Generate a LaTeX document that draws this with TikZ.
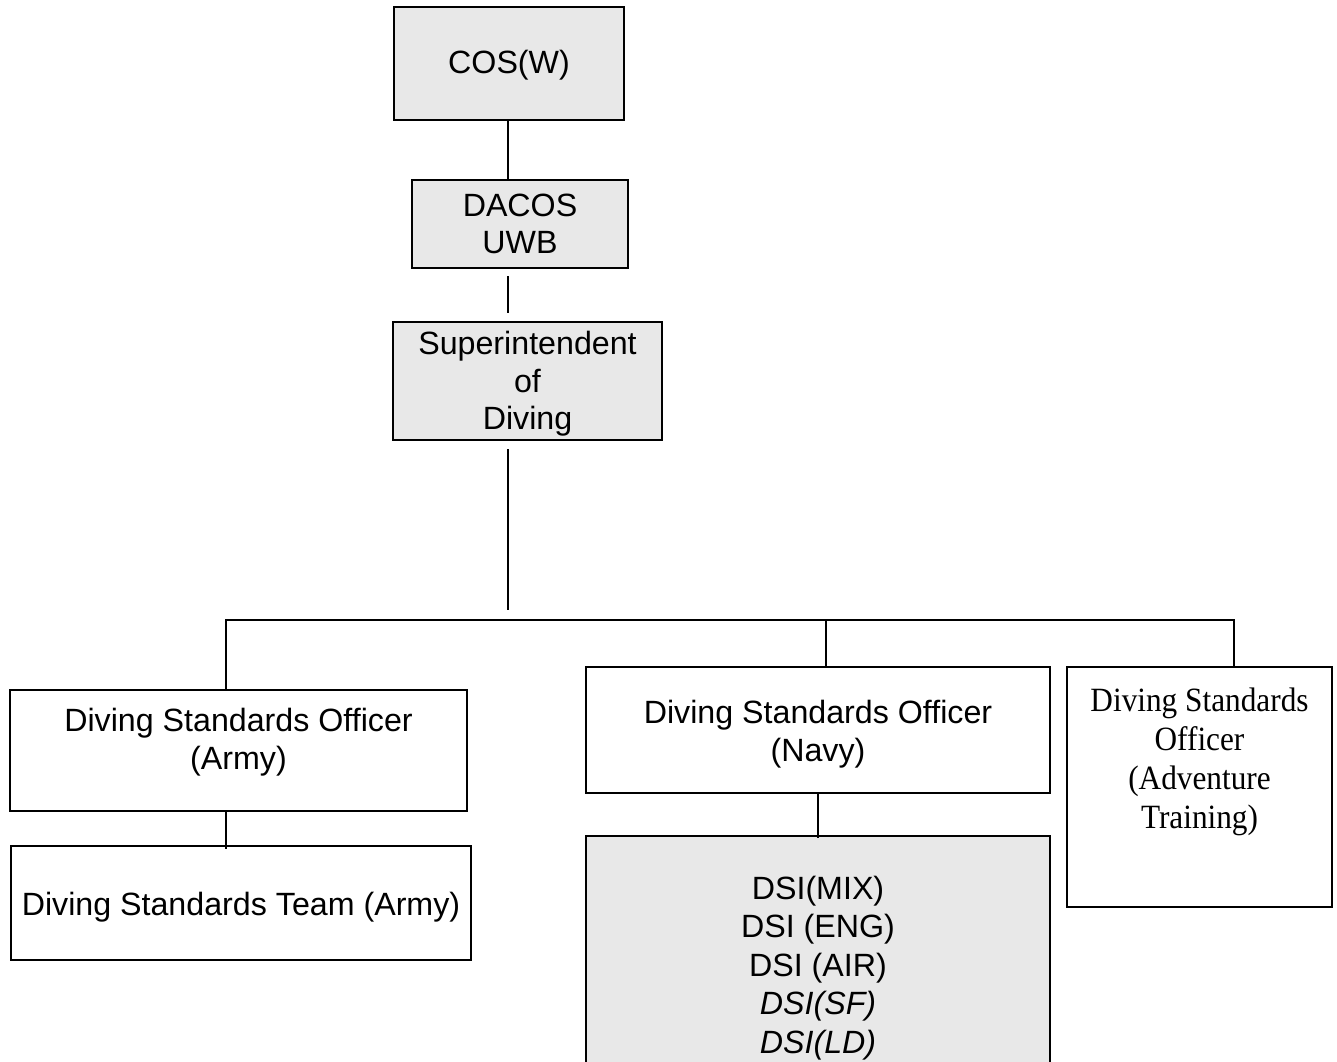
\documentclass[tikz,border=0pt]{standalone}
\usepackage{fontspec}
\setmainfont{Liberation Sans}
\newfontfamily\serifpart[FakeStretch=0.92]{Liberation Serif}
\usetikzlibrary{positioning}
\definecolor{boxgray}{RGB}{232,232,232}

\tikzset{
  chart/.style={draw, line width=2pt, inner sep=0pt, align=center,
    font=\fontsize{32.2}{37.5}\selectfont},
  shaded/.style={chart, fill=boxgray},
  plain/.style={chart, fill=white},
  boxtext/.style={align=center, inner sep=0pt, font=\fontsize{32.2}{37.5}\selectfont},
  link/.style={line width=1.3pt},
}

\begin{document}
\begin{tikzpicture}[line cap=butt,line join=miter,x=1pt,y=-1pt]
\useasboundingbox (0,0) rectangle (1337,1061);
\clip (0,0) rectangle (1337,1061);
% top of the chart
\node[shaded, minimum width=230, minimum height=113] (cos) at (509,63.5) {};
\node[boxtext] (costext) at (509,65) {COS(W)};
\node[shaded, minimum width=216, minimum height=88] (dacos) at (520,224) {DACOS\\UWB};
\node[shaded, minimum width=269, minimum height=118] (super) at (527.5,381) {};
\node[boxtext] (supertext) at (527.5,384) {Superintendent\\of\\Diving};
% second row
\node[plain, minimum width=457, minimum height=121] (army) at (238.5,750.5) {};
\node[boxtext] (armytext) at (238.5,742) {Diving Standards Officer\\(Army)};
\node[plain, minimum width=464, minimum height=126] (navy) at (818,730) {};
\node[boxtext] (navytext) at (818,734) {Diving Standards Officer\\(Navy)};
\node[plain, minimum width=265, minimum height=240] (adv) at (1199.5,787) {};
\node[boxtext, font=\serifpart\fontsize{34}{39}\selectfont] (advtext) at (1199.5,762) {Diving Standards\\Officer\\(Adventure\\Training)};
% third row
\node[plain, minimum width=460, minimum height=114] (team) at (241,903) {};
\node[boxtext] (teamtext) at (241,907) {Diving Standards Team (Army)};
\node[shaded, minimum width=464, minimum height=264] (dsi) at (818,968) {};
\node[boxtext, font=\fontsize{32.2}{38.5}\selectfont] (dsitext) at (818,968) {DSI(MIX)\\DSI (ENG)\\DSI (AIR)\\\textit{DSI(SF)}\\\textit{DSI(LD)}};
% connectors
\coordinate (trunk) at (508,0);
\coordinate (drop) at (508,610);
\coordinate (busL) at (226,620);
\coordinate (busN) at (826,620);
\coordinate (busR) at (1234,620);
\draw[link] (cos.south -| trunk) -- (dacos.north -| trunk);
\draw[link] ([yshift=-7pt]dacos.south -| trunk) -- ([yshift=8pt]super.north -| trunk);
\draw[link] ([yshift=-8pt]super.south -| trunk) -- (drop);
\draw[link] (army.north -| busL) -- (busL) -- (busR) -- (adv.north -| busR);
\draw[link] (busN) -- (navy.north -| busN);
\draw[link] (army.south -| busL) -- ([yshift=-4pt]team.north -| busL);
\draw[link] ([yshift=2pt]navy.south) -- ([yshift=-3pt]dsi.north);
\end{tikzpicture}
\end{document}
